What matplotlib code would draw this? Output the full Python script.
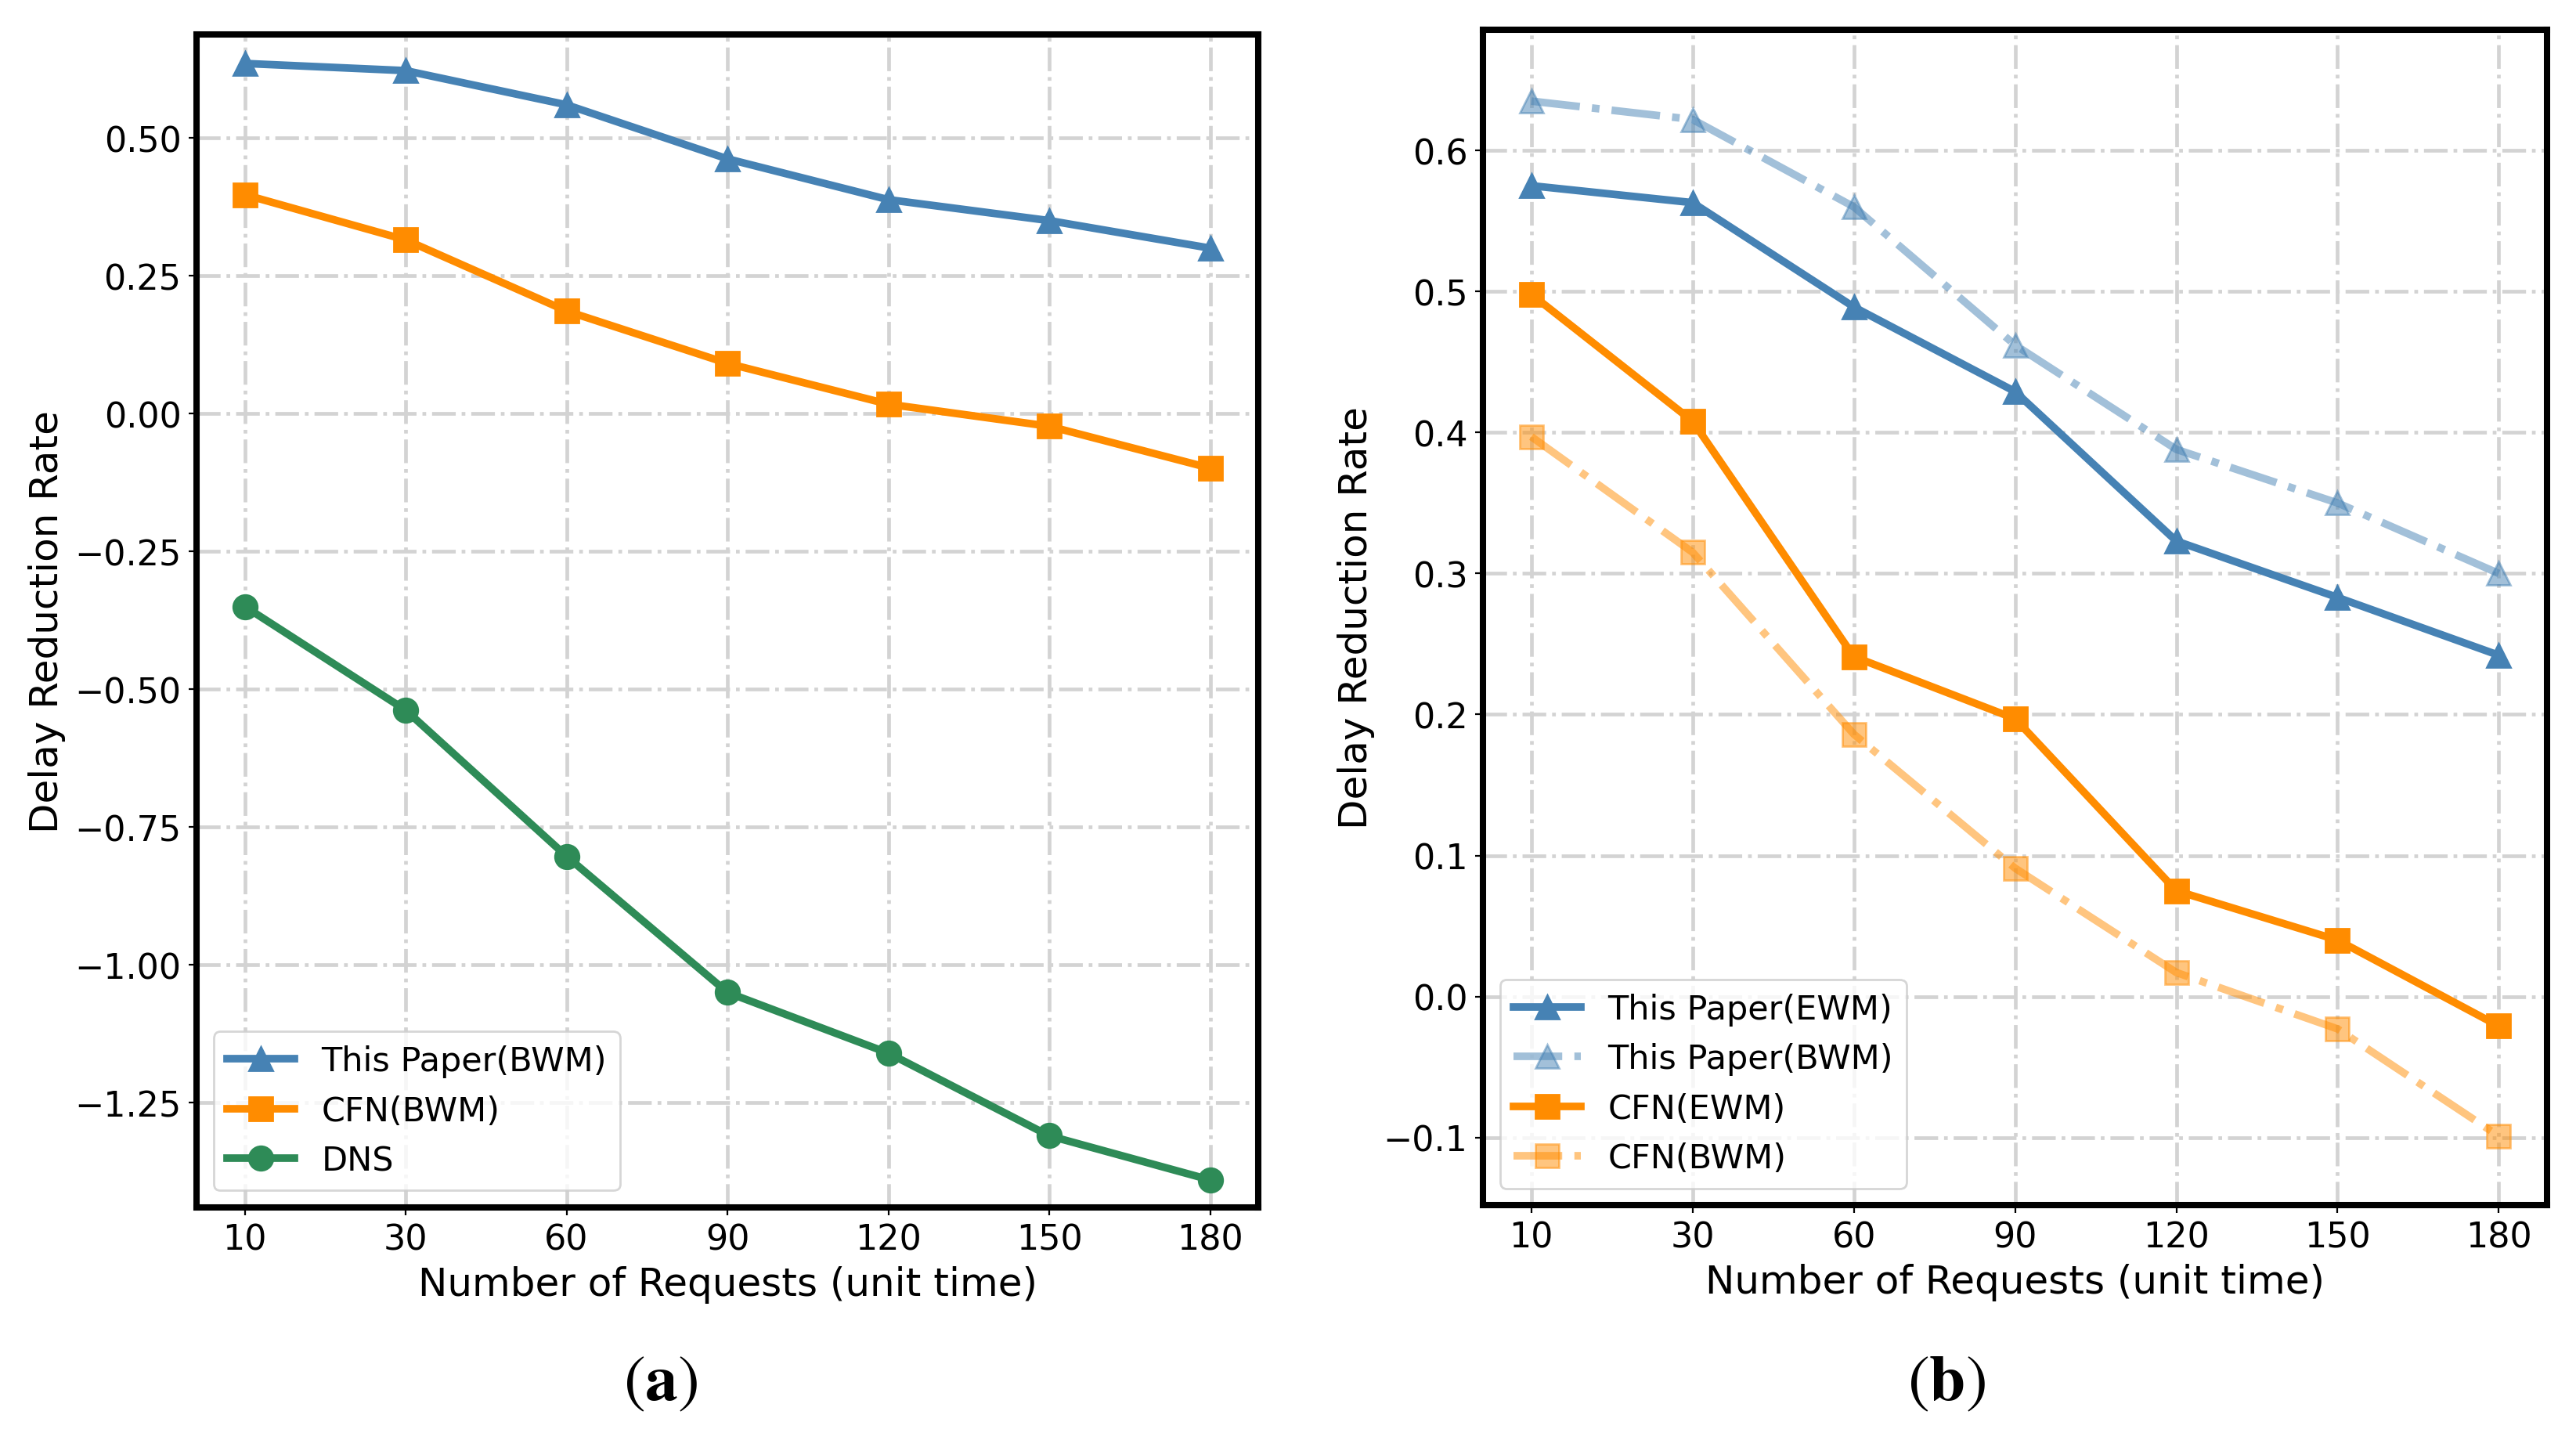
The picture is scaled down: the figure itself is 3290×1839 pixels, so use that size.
import matplotlib
matplotlib.use("Agg")
import matplotlib.pyplot as plt

# request counts per unit time (categorical x axis)
requests = ['10', '30', '60', '90', '120', '150', '180']

# (a) BWM weights
paper_bwm = [0.635, 0.622, 0.560, 0.462, 0.388, 0.350, 0.300]
cfn_bwm = [0.397, 0.315, 0.186, 0.091, 0.017, -0.023, -0.099]
dns = [-0.350, -0.538, -0.803, -1.050, -1.160, -1.310, -1.390]

# (b) EWM weights
paper_ewm = [0.575, 0.563, 0.489, 0.429, 0.323, 0.283, 0.242]
cfn_ewm = [0.498, 0.408, 0.241, 0.197, 0.075, 0.040, -0.021]

BLUE = '#4682B4'
ORANGE = '#FF8C00'
GREEN = '#2E8B57'

plt.rcParams['font.family'] = ['DejaVu Sans']
plt.rcParams['mathtext.fontset'] = 'stix'

fig = plt.figure(figsize=(16.45, 9.2), dpi=200)
ax1 = fig.add_axes([0.0763, 0.1614, 0.4122, 0.8141])
ax2 = fig.add_axes([0.5757, 0.1630, 0.4131, 0.8158])

lw = 3.5
ms = 11

# Panel (a)
ax1.plot(requests, paper_bwm, color=BLUE, marker='^', lw=lw, ms=ms, label='This Paper(BWM)')
ax1.plot(requests, cfn_bwm, color=ORANGE, marker='s', lw=lw, ms=ms, label='CFN(BWM)')
ax1.plot(requests, dns, color=GREEN, marker='o', lw=lw, ms=ms, label='DNS')
ax1.set_ylim(-1.44, 0.6875)

# Panel (b)
ax2.plot(requests, paper_ewm, color=BLUE, marker='^', lw=lw, ms=ms, label='This Paper(EWM)')
ax2.plot(requests, paper_bwm, color=BLUE, marker='^', lw=lw, ms=ms, ls='-.', alpha=0.5,
         label='This Paper(BWM)')
ax2.plot(requests, cfn_ewm, color=ORANGE, marker='s', lw=lw, ms=ms, label='CFN(EWM)')
ax2.plot(requests, cfn_bwm, color=ORANGE, marker='s', lw=lw, ms=ms, ls='-.', alpha=0.5,
         label='CFN(BWM)')
ax2.set_ylim(-0.148, 0.6856)

for ax in (ax1, ax2):
    ax.set_xlabel('Number of Requests (unit time)', fontsize=18)
    ax.set_ylabel('Delay Reduction Rate', fontsize=18)
    ax.tick_params(labelsize=16)
    ax.grid(True, color='lightgray', ls='-.', lw=1.7)
    ax.set_axisbelow(True)
    for sp in ax.spines.values():
        sp.set_linewidth(2.9)
    ax.legend(loc='lower left', fontsize=15.5)

fig.text(0.2565, 0.041, r'$(\mathbf{a})$', fontsize=30, ha='center', va='center')
fig.text(0.7556, 0.041, r'$(\mathbf{b})$', fontsize=30, ha='center', va='center')

fig.savefig('out.png', dpi=200)
